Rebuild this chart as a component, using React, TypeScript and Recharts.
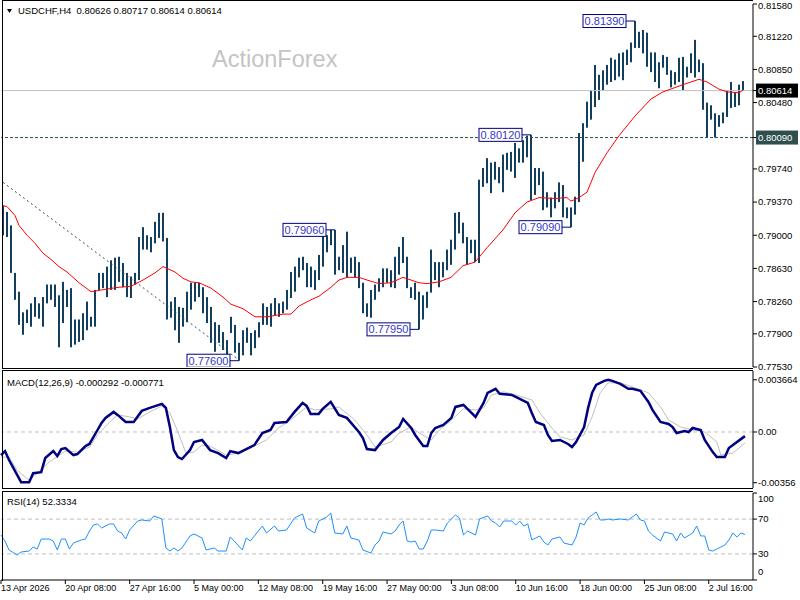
import React from 'react';
import { ComposedChart, Bar, Line, XAxis, YAxis, ReferenceLine } from 'recharts';

const FONT = '"Liberation Sans", Arial, sans-serif';
const BAR_COLOR = '#123f5e';

// H8-merged price bars (two H4 bars per stick), 13 Apr 2026 -> 6 Jul 2026
const highs = [
  0.7933, 0.7926, 0.7911, 0.7858, 0.7837, 0.7814, 0.7817, 0.7824, 0.7831, 0.7824,
  0.7831, 0.7845, 0.7845, 0.7845, 0.7833, 0.7848, 0.7839, 0.7841, 0.7806, 0.7806,
  0.7813, 0.7826, 0.7809, 0.7839, 0.7858, 0.7858, 0.7865, 0.7872, 0.7875, 0.7876,
  0.7869, 0.7858, 0.7854, 0.7858, 0.7898, 0.7909, 0.79, 0.7898, 0.7915, 0.7925,
  0.7925, 0.7897, 0.7826, 0.7831, 0.782, 0.7819, 0.7837, 0.7847, 0.7847, 0.7847,
  0.7842, 0.7831, 0.782, 0.7803, 0.78, 0.7792, 0.7783, 0.7809, 0.78, 0.778,
  0.7794, 0.7797, 0.7791, 0.7794, 0.7803, 0.7824, 0.782, 0.7824, 0.783, 0.7824,
  0.7826, 0.7839, 0.7859, 0.7865, 0.7875, 0.7876, 0.7869, 0.7865, 0.7861, 0.7878,
  0.79, 0.79, 0.7906, 0.7906, 0.7876, 0.7889, 0.7904, 0.7875, 0.7876, 0.787,
  0.7847, 0.7824, 0.7839, 0.7845, 0.7852, 0.7863, 0.7863, 0.7861, 0.7876, 0.7887,
  0.7898, 0.7876, 0.7842, 0.7847, 0.7837, 0.7833, 0.7837, 0.7884, 0.787, 0.787,
  0.787, 0.7884, 0.7895, 0.7925, 0.7926, 0.7914, 0.7898, 0.7895, 0.7895, 0.7962,
  0.7975, 0.7986, 0.7981, 0.7982, 0.7976, 0.799, 0.7992, 0.7993, 0.8003, 0.7997,
  0.8006, 0.8011, 0.8012, 0.7975, 0.7975, 0.7971, 0.7948, 0.7942, 0.7948, 0.7959,
  0.7956, 0.7931, 0.7931, 0.7943, 0.8014, 0.8025, 0.8049, 0.8062, 0.809, 0.8079,
  0.8084, 0.809, 0.8098, 0.8096, 0.8103, 0.8104, 0.8107, 0.8115, 0.8139, 0.8127,
  0.8129, 0.8126, 0.8104, 0.8104, 0.8093, 0.8101, 0.8099, 0.8084, 0.8082, 0.8098,
  0.8099, 0.8088, 0.8103, 0.8118, 0.8096, 0.8092, 0.8048, 0.8045, 0.8036, 0.8034,
  0.8037, 0.8062, 0.8071, 0.8059, 0.8068, 0.8072,
];
const lows = [
  0.79, 0.7898, 0.7858, 0.7828, 0.78, 0.7789, 0.7802, 0.7798, 0.7809, 0.7807,
  0.7798, 0.7824, 0.7828, 0.782, 0.7775, 0.7802, 0.782, 0.7775, 0.7778, 0.7781,
  0.7783, 0.7794, 0.7798, 0.7798, 0.7839, 0.7841, 0.7831, 0.7839, 0.7839, 0.7848,
  0.7842, 0.7831, 0.783, 0.7845, 0.785, 0.7884, 0.7884, 0.7881, 0.7891, 0.7897,
  0.7893, 0.7806, 0.7808, 0.7794, 0.778, 0.7798, 0.7803, 0.7817, 0.7826, 0.7831,
  0.7813, 0.7802, 0.778, 0.777, 0.778, 0.7772, 0.7766, 0.7791, 0.7769, 0.776,
  0.7766, 0.778, 0.7766, 0.7774, 0.7786, 0.78, 0.78, 0.7798, 0.7811, 0.7809,
  0.7813, 0.7817, 0.783, 0.7837, 0.7853, 0.7861, 0.7842, 0.7842, 0.7839, 0.785,
  0.7865, 0.7881, 0.7889, 0.7856, 0.7861, 0.7858, 0.7853, 0.7858, 0.7853, 0.7841,
  0.7813, 0.7809, 0.7808, 0.7828, 0.7837, 0.7842, 0.7847, 0.7842, 0.7841, 0.7856,
  0.7869, 0.7841, 0.783, 0.7828, 0.7795, 0.7806, 0.7819, 0.7836, 0.785, 0.7842,
  0.7853, 0.7861, 0.7867, 0.7884, 0.7902, 0.7891, 0.7867, 0.788, 0.787, 0.7869,
  0.7954, 0.7958, 0.7947, 0.7962, 0.7958, 0.7948, 0.7973, 0.7971, 0.7964, 0.7981,
  0.7981, 0.7987, 0.7939, 0.7945, 0.7956, 0.7928, 0.7931, 0.792, 0.793, 0.7937,
  0.792, 0.7919, 0.7909, 0.7923, 0.7937, 0.7982, 0.802, 0.8029, 0.8043, 0.8051,
  0.8062, 0.8068, 0.8071, 0.8073, 0.8077, 0.8073, 0.809, 0.8093, 0.8109, 0.8109,
  0.8103, 0.8088, 0.8082, 0.8071, 0.8064, 0.8087, 0.8079, 0.8065, 0.8068, 0.8071,
  0.8062, 0.8076, 0.8081, 0.8076, 0.8082, 0.804, 0.8009, 0.8029, 0.8009, 0.8021,
  0.8025, 0.8032, 0.8042, 0.8043, 0.8045, 0.8061,
];

// moving average (red)
const maIdx = [0, 1, 3, 4, 6, 8, 10, 12, 14, 16, 19, 22, 26, 29, 32, 35, 38, 40, 43, 45,
  47, 49, 52, 55, 57, 60, 63, 66, 70, 72, 74, 77, 79, 82, 84, 86, 89, 91, 94, 97,
  100, 104, 106, 109, 112, 115, 118, 121, 125, 128, 131, 134, 138, 141, 142, 144, 146, 148, 151, 154,
  158, 162, 165, 170, 174, 176, 179, 181, 184, 185];
const maVals = [0.7933, 0.7932, 0.7922, 0.7911, 0.79, 0.7891, 0.788, 0.7873, 0.7865, 0.7859,
  0.7847, 0.7837, 0.784, 0.7842, 0.7843, 0.785, 0.7858, 0.7865, 0.7859, 0.7852,
  0.7848, 0.7847, 0.7841, 0.7831, 0.7823, 0.7818, 0.7809, 0.7809, 0.7812, 0.7812,
  0.7821, 0.7828, 0.7832, 0.7842, 0.785, 0.7853, 0.7853, 0.785, 0.7846, 0.7847,
  0.7853, 0.7847, 0.7846, 0.7848, 0.7853, 0.7866, 0.787, 0.7886, 0.7906, 0.7925,
  0.7937, 0.7942, 0.7941, 0.7942, 0.7938, 0.7942, 0.7948, 0.797, 0.7992, 0.8011,
  0.8033, 0.8052, 0.806, 0.8068, 0.8074, 0.8071, 0.8063, 0.806, 0.8059, 0.8062];

// falling trendline
const trendIdx = [0, 59];
const trendVals = [0.7959, 0.7761];

// swing labels
const pivotIdx = [158, 132, 83, 59, 104, 142];
const pivotVals = [0.8139, 0.8012, 0.7906, 0.776, 0.7795, 0.7909];

const lastPrice = 0.80614;
const supportPrice = 0.8009;
const priceTicks = [0.7753, 0.779, 0.7826, 0.7863, 0.79, 0.7937, 0.7974, 0.8048, 0.8085, 0.8122, 0.8158, lastPrice, supportPrice];

// MACD(12,26,9)
const macdIdx = [0, 1, 2, 5, 7, 8, 10, 11, 13, 14, 15, 16, 18, 19, 21, 22, 24, 25, 26, 28,
  29, 31, 33, 35, 37, 40, 41, 42, 43, 44, 45, 47, 48, 50, 52, 54, 56, 57, 59, 61,
  63, 65, 67, 68, 71, 73, 75, 76, 77, 79, 80, 82, 84, 86, 89, 90, 91, 93, 95, 97,
  99, 100, 102, 103, 105, 106, 107, 108, 110, 112, 113, 115, 116, 118, 120, 121, 123, 124, 127, 129,
  131, 132, 133, 135, 136, 137, 139, 141, 142, 143, 145, 146, 147, 148, 150, 151, 152, 154, 156, 157,
  159, 161, 162, 164, 166, 167, 168, 170, 171, 172, 174, 175, 177, 178, 180, 181, 182, 185];
const macdVals = [-0.00162, -0.00134, -0.00197, -0.00352, -0.00352, -0.00289, -0.00282, -0.00183, -0.00134, -0.00169,
  -0.0012, -0.00113, -0.00162, -0.00155, -0.00099, -0.00084, 0.00014, 0.00063, 0.00099, 0.00141,
  0.0012, 0.0007, 0.0007, 0.00148, 0.00169, 0.00197, 0.00169, 0.00035, -0.00127, -0.00176,
  -0.0019, -0.00127, -0.0007, -0.00056, -0.00127, -0.00148, -0.00183, -0.00134, -0.00148, -0.0012,
  -0.00092, -0.00007, 0.00014, 0.00063, 0.0007, 0.00141, 0.00204, 0.00183, 0.00127, 0.00127,
  0.00162, 0.00211, 0.0012, 0.00099, 0, -0.00042, -0.0012, -0.00127, -0.00056, -0.00007,
  0.00035, 0.00092, 0.00028, -0.00021, -0.00099, -0.00099, -0.00007, 0.00028, 0.00049, 0.00099,
  0.00176, 0.0019, 0.00162, 0.00106, 0.00204, 0.00275, 0.00303, 0.00268, 0.0026, 0.00232,
  0.00204, 0.00134, 0.0007, 0.00049, -0.00021, -0.00063, -0.00056, -0.00084, -0.00106, -0.0007,
  0.00035, 0.00169, 0.00275, 0.00331, 0.00359, 0.00366, 0.00359, 0.00338, 0.00303, 0.00303,
  0.00289, 0.00211, 0.00155, 0.0007, 0.00056, 0.00035, -0.00007, 0.00007, 0, 0.00028,
  0.00014, -0.00056, -0.00141, -0.00176, -0.00176, -0.00113, -0.00092, -0.00029];
const signalIdx = [0, 2, 4, 7, 9, 12, 16, 19, 22, 24, 27, 29, 32, 34, 37, 40, 42, 44, 46, 48,
  50, 52, 56, 59, 62, 66, 69, 72, 76, 78, 82, 84, 88, 91, 93, 97, 99, 102, 104, 107,
  109, 112, 115, 118, 120, 122, 125, 128, 132, 134, 137, 139, 142, 145, 147, 149, 151, 154, 157, 161,
  164, 166, 169, 172, 175, 178, 179, 182, 185];
const signalVals = [-0.00176, -0.00176, -0.00268, -0.00338, -0.00289, -0.00211, -0.00134, -0.00141, -0.00106, -0.00021,
  0.0007, 0.0012, 0.00106, 0.00092, 0.00141, 0.00183, 0.00134, 0, -0.00148, -0.00141,
  -0.00092, -0.00099, -0.00162, -0.00148, -0.00113, -0.00056, 0.00028, 0.00084, 0.00176, 0.00155,
  0.00162, 0.00176, 0.00084, -0.00021, -0.00106, -0.0007, -0.00007, 0.00035, -0.00007, -0.00056,
  0.00014, 0.00084, 0.00162, 0.00155, 0.00169, 0.0026, 0.00282, 0.0026, 0.00225, 0.00134,
  0.00028, -0.00035, -0.00056, -0.00021, 0.00106, 0.00275, 0.00345, 0.00345, 0.00317, 0.00275,
  0.00176, 0.00084, 0.00035, 0.00014, 0, -0.0007, -0.00162, -0.00148, -0.00077];
const macdTicks = [-0.00356, 0, 0.003664];

// RSI(14)
const rsiIdx = [0, 1, 2, 4, 5, 7, 8, 9, 10, 12, 13, 14, 15, 16, 17, 18, 20, 21, 22, 23,
  24, 25, 27, 28, 29, 30, 31, 32, 34, 35, 37, 38, 40, 41, 42, 43, 44, 45, 47, 48,
  50, 51, 53, 54, 56, 57, 58, 60, 61, 62, 64, 65, 66, 68, 69, 71, 73, 75, 76, 78,
  79, 81, 82, 83, 85, 86, 87, 89, 90, 92, 93, 94, 95, 97, 98, 99, 100, 101, 102, 103,
  104, 105, 106, 107, 108, 110, 111, 113, 114, 115, 116, 118, 119, 121, 122, 123, 124, 125, 127, 128,
  129, 130, 131, 132, 133, 134, 135, 136, 137, 139, 140, 142, 143, 144, 145, 146, 147, 148, 149, 150,
  151, 152, 154, 156, 158, 159, 160, 161, 162, 164, 165, 167, 168, 169, 170, 172, 173, 174, 175, 176,
  177, 178, 179, 180, 181, 182, 183, 184, 185];
const rsiVals = [51.7, 44.8, 34.5, 28.7, 32.2, 33.3, 37.9, 35.6, 47.1, 47.1,
  44.8, 34.5, 47.1, 47.1, 35.6, 42.5, 46.0, 47.1, 56.3, 63.2,
  64.4, 59.8, 64.4, 64.4, 56.3, 54.0, 47.1, 57.5, 67.8, 69.0,
  67.8, 73.6, 70.1, 36.8, 33.3, 36.8, 33.3, 36.8, 50.6, 52.9,
  48.3, 34.5, 36.8, 33.3, 33.3, 49.4, 44.8, 34.5, 48.3, 44.8,
  56.3, 62.1, 54.0, 62.1, 56.3, 57.5, 71.3, 75.9, 59.8, 54.0,
  67.8, 72.4, 77.0, 54.0, 52.9, 62.1, 48.3, 46.0, 34.5, 31.0,
  40.2, 44.8, 55.2, 52.9, 56.3, 63.2, 67.8, 44.8, 43.7, 44.8,
  35.6, 35.6, 44.8, 57.5, 57.5, 56.3, 65.5, 74.7, 71.3, 51.7,
  56.3, 51.7, 70.1, 73.6, 67.8, 65.5, 60.9, 67.8, 67.8, 63.2,
  67.8, 62.1, 64.4, 46.0, 48.3, 50.6, 43.7, 40.2, 47.1, 49.4,
  42.5, 40.2, 49.4, 65.5, 63.2, 71.3, 74.7, 78.2, 69.0, 69.0,
  70.1, 69.0, 70.1, 69.0, 75.9, 69.0, 67.8, 56.3, 51.7, 44.8,
  55.2, 52.9, 44.8, 54.0, 48.3, 54.0, 62.1, 50.6, 50.6, 34.5,
  33.3, 35.6, 37.9, 40.2, 46.0, 54.0, 49.4, 54.0, 52.3];
const rsiTicks = [0, 30, 70, 100];

// time axis
const timeTickIdx = [0, 16, 32, 48, 64, 80, 96, 112, 128, 144, 160, 176];
const timeLabels = ['13 Apr 2026', '20 Apr 08:00', '27 Apr 16:00', '5 May 00:00', '12 May 08:00', '19 May 16:00',
  '27 May 00:00', '3 Jun 08:00', '10 Jun 16:00', '18 Jun 00:00', '25 Jun 08:00', '2 Jul 16:00'];

// two empty slots on the right so the plot reaches the price scale
const SLOTS = highs.length + 2;

const rows: any[] = Array.from({ length: SLOTS }, (_, i) => ({ i }));
highs.forEach((h, i) => { rows[i].range = [lows[i], h]; });
maIdx.forEach((b, k) => { rows[b].ma = maVals[k]; });
trendIdx.forEach((b, k) => { rows[b].trend = trendVals[k]; });
pivotIdx.forEach((b, k) => { rows[b].pivot = pivotVals[k]; });
macdIdx.forEach((b, k) => { rows[b].macd = macdVals[k]; });
signalIdx.forEach((b, k) => { rows[b].signal = signalVals[k]; });
rsiIdx.forEach((b, k) => { rows[b].rsi = rsiVals[k]; });

const BarStick = (props: any) => {
  const { x, y, width, height } = props;
  if (![x, y, width, height].every((v) => Number.isFinite(v))) return <g />;
  const top = Math.min(y, y + height);
  const h = Math.max(Math.abs(height), 1);
  return <rect x={x + width / 2 - 1} y={top} width={2} height={h} fill={BAR_COLOR} />;
};

const PivotDot = (props: any) => {
  const { cx, cy, payload, index } = props;
  if (!payload || payload.pivot == null || !Number.isFinite(cy)) return <g key={`pv-${index}`} />;
  const right = cx - 9;
  return (
    <g key={`pv-${index}`}>
      <line x1={right} y1={cy} x2={cx} y2={cy} stroke="#000080" />
      <rect x={right - 43} y={cy - 6.5} width={43} height={13} fill="#fff" stroke="#000080" />
      <text x={right - 21.5} y={cy} dy="0.36em" textAnchor="middle" fontSize={11} fontFamily={FONT} fill="#3838c8">
        {payload.pivot.toFixed(5)}
      </text>
    </g>
  );
};

const PriceTick = (props: any) => {
  const { x, y, payload } = props;
  const v: number = payload.value;
  const txt = v.toFixed(5);
  const ty = Math.max(y, 6);
  if (v === lastPrice || v === supportPrice) {
    const bg = v === lastPrice ? '#000000' : '#2f4f4f';
    return (
      <g>
        <rect x={x - 2} y={y - 7} width={42} height={14} fill={bg} />
        <text x={x} y={y} dy="0.355em" fontSize={9.5} fontFamily={FONT} fill="#fff">{txt}</text>
      </g>
    );
  }
  return <text x={x} y={ty} dy="0.355em" fontSize={9.5} fontFamily={FONT} fill="#000">{txt}</text>;
};

const MacdTick = (props: any) => {
  const { x, y, payload } = props;
  const v: number = payload.value;
  return (
    <text x={x} y={y} dy="0.355em" fontSize={9.5} fontFamily={FONT} fill="#000">
      {v === 0 ? '0.00' : String(v)}
    </text>
  );
};

const RsiTick = (props: any) => {
  const { x, y, payload } = props;
  const v: number = payload.value;
  const shift = v === 100 ? 6 : v === 0 ? -8 : 0;
  return (
    <text x={x} y={y + shift} dy="0.355em" fontSize={9.5} fontFamily={FONT} fill="#000">{v}</text>
  );
};

const TimeTick = (props: any) => {
  const { x, y, payload } = props;
  const k = timeTickIdx.indexOf(payload.value);
  return (
    <text x={x} y={y} dy="0.71em" textAnchor="start" fontSize={9} fontFamily={FONT} fill="#000">
      {timeLabels[k]}
    </text>
  );
};

const axisProps = {
  orientation: 'right' as const,
  width: 47,
  tickSize: 4,
  tickMargin: 1,
  interval: 0 as const,
  allowDataOverflow: true,
  axisLine: { stroke: '#000' },
  tickLine: { stroke: '#000' },
};

export default function App() {
  return (
    <div style={{ position: 'absolute', left: 0, top: 0, width: 800, height: 600, background: '#fff', overflow: 'hidden', fontFamily: FONT }}>
      {/* price panel (svg a little taller than the plot so the lowest scale label fits) */}
      <div style={{ position: 'absolute', left: 0, top: 0 }}>
        <ComposedChart width={800} height={372} data={rows} margin={{ top: 4, right: 0, bottom: 5, left: 1 }} barCategoryGap={0}>
          <XAxis dataKey="i" hide />
          <YAxis {...axisProps} domain={[0.7753, 0.8158]} ticks={priceTicks} tick={(p: any) => <PriceTick {...p} />} />
          <ReferenceLine y={lastPrice} stroke="#c0c0c0" />
          <ReferenceLine y={supportPrice} stroke="#2f4f4f" strokeDasharray="3 2" />
          <Line dataKey="trend" stroke="#2f4f4f" strokeDasharray="2 3" dot={false} connectNulls isAnimationActive={false} />
          <Bar dataKey="range" shape={(p: any) => <BarStick {...p} />} isAnimationActive={false} />
          <Line dataKey="ma" stroke="#ff0000" strokeWidth={1} dot={false} connectNulls isAnimationActive={false} />
          <Line dataKey="pivot" stroke="none" dot={(p: any) => <PivotDot {...p} />} activeDot={false} isAnimationActive={false} />
        </ComposedChart>
      </div>

      {/* MACD panel */}
      <div style={{ position: 'absolute', left: 0, top: 370 }}>
        <ComposedChart width={800} height={119} data={rows} margin={{ top: 1, right: 0, bottom: 1, left: 1 }}>
          <XAxis dataKey="i" hide />
          <YAxis {...axisProps} domain={[-0.00393, 0.00428]} ticks={macdTicks} tick={(p: any) => <MacdTick {...p} />} />
          <ReferenceLine y={0} stroke="#c0c0c0" strokeDasharray="4 3" />
          <Line dataKey="signal" stroke="#c0c0c0" strokeWidth={1} dot={false} connectNulls isAnimationActive={false} />
          <Line dataKey="macd" stroke="#000080" strokeWidth={2.5} dot={false} connectNulls isAnimationActive={false} />
        </ComposedChart>
      </div>

      {/* RSI panel */}
      <div style={{ position: 'absolute', left: 0, top: 490 }}>
        <ComposedChart width={800} height={110} data={rows} margin={{ top: 3, right: 0, bottom: 0, left: 1 }}>
          <XAxis
            dataKey="i"
            ticks={timeTickIdx}
            interval={0}
            height={20}
            tickSize={4}
            tickMargin={1}
            axisLine={{ stroke: '#000' }}
            tickLine={{ stroke: '#000' }}
            tick={(p: any) => <TimeTick {...p} />}
          />
          <YAxis {...axisProps} domain={[0, 100]} ticks={rsiTicks} tick={(p: any) => <RsiTick {...p} />} />
          <ReferenceLine y={70} stroke="#c0c0c0" strokeDasharray="4 3" />
          <ReferenceLine y={30} stroke="#c0c0c0" strokeDasharray="4 3" />
          <Line dataKey="rsi" stroke="#1e90ff" strokeWidth={1} dot={false} connectNulls isAnimationActive={false} />
        </ComposedChart>
      </div>

      {/* window frames and captions */}
      <svg width={800} height={600} style={{ position: 'absolute', left: 0, top: 0, pointerEvents: 'none' }}>
        <g stroke="#000" strokeWidth={1} shapeRendering="crispEdges">
          <line x1={2} y1={0.5} x2={753} y2={0.5} />
          <line x1={2} y1={368.5} x2={753} y2={368.5} />
          <line x1={2.5} y1={0} x2={2.5} y2={369} />
          <line x1={2} y1={370.5} x2={753} y2={370.5} />
          <line x1={2} y1={488.5} x2={753} y2={488.5} />
          <line x1={2.5} y1={370} x2={2.5} y2={489} />
          <line x1={2} y1={491.5} x2={753} y2={491.5} />
          <line x1={2.5} y1={491} x2={2.5} y2={581} />
        </g>
        <polygon points="7,9 12,9 9.5,13" fill="#000" />
        <text x={18} y={13.5} fontSize={9.5} fontFamily={FONT} fill="#000" style={{ whiteSpace: 'pre' }}>
          {'USDCHF,H4  0.80626 0.80717 0.80614 0.80614'}
        </text>
        <text x={212} y={67} fontSize={23.5} fontFamily={FONT} fill="#c4c4c4">ActionForex</text>
        <text x={7} y={385.5} fontSize={9.5} fontFamily={FONT} fill="#000">MACD(12,26,9) -0.000292 -0.000771</text>
        <text x={7} y={504.5} fontSize={9.5} fontFamily={FONT} fill="#000">RSI(14) 52.3334</text>
      </svg>
    </div>
  );
}
